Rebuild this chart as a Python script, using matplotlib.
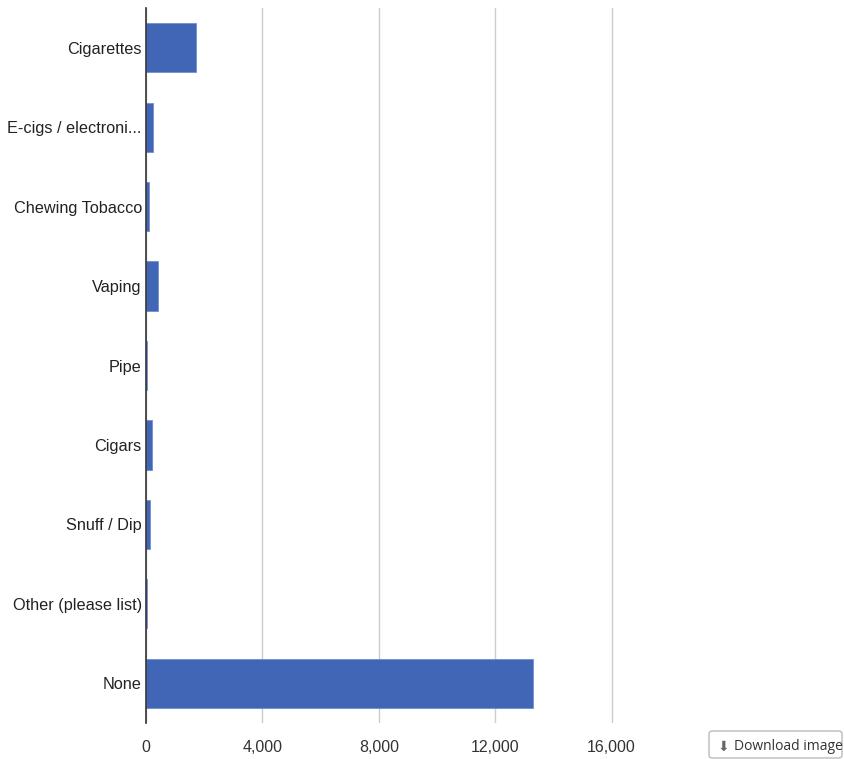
import matplotlib.pyplot as plt
from matplotlib.patches import FancyBboxPatch

categories = [
    "Cigarettes",
    "E-cigs / electroni...",
    "Chewing Tobacco",
    "Vaping",
    "Pipe",
    "Cigars",
    "Snuff / Dip",
    "Other (please list)",
    "None",
]
counts = [1720, 240, 100, 410, 30, 205, 150, 25, 13300]
x_ticks = [0, 4000, 8000, 12000, 16000]

BAR_COLOR = "#4166b5"

plt.rcParams["font.family"] = ["Liberation Sans", "DejaVu Sans"]

fig = plt.figure(figsize=(8.44, 7.59), dpi=100)
ax = fig.add_axes([146 / 844, 36 / 759, (728 - 146) / 844, (723 - 8) / 759])

pos = list(range(len(categories)))
ax.barh(pos, counts, height=0.62, color=BAR_COLOR, edgecolor="#6f8fd0",
        linewidth=0.6, zorder=3)

ax.set_ylim(len(categories) - 0.5, -0.5)
ax.set_xlim(0, 20000)
ax.set_yticks(pos)
ax.set_yticklabels(categories, fontsize=11.7, color="#222222")
ax.set_xticks(x_ticks)
ax.set_xticklabels([f"{t:,}" for t in x_ticks], fontsize=11.5, color="#333333")
ax.tick_params(axis="both", length=0, pad=3)
ax.tick_params(axis="x", pad=12)

ax.grid(axis="x", color="#cccccc", linewidth=1, zorder=0)
for side in ("top", "right", "bottom"):
    ax.spines[side].set_visible(False)
ax.spines["left"].set_color("#333333")
ax.spines["left"].set_linewidth(1.2)
ax.spines["left"].set_zorder(4)

# download button in the lower right corner
box = FancyBboxPatch((709 / 844, 1 / 759), 133 / 844, 27 / 759,
                     boxstyle="round,pad=0,rounding_size=0.004",
                     transform=fig.transFigure, facecolor="white",
                     edgecolor="#bbbbbb", linewidth=1)
fig.patches.append(box)
fig.text(718 / 844, 12 / 759, "\u2b07", ha="left", va="center",
         fontsize=10, color="#666666", family="DejaVu Sans")
fig.text(734 / 844, 12 / 759, "Download image", ha="left", va="center",
         fontsize=10, color="#333333", family=["Open Sans", "DejaVu Sans"])

fig.savefig("out.png", dpi=100)
